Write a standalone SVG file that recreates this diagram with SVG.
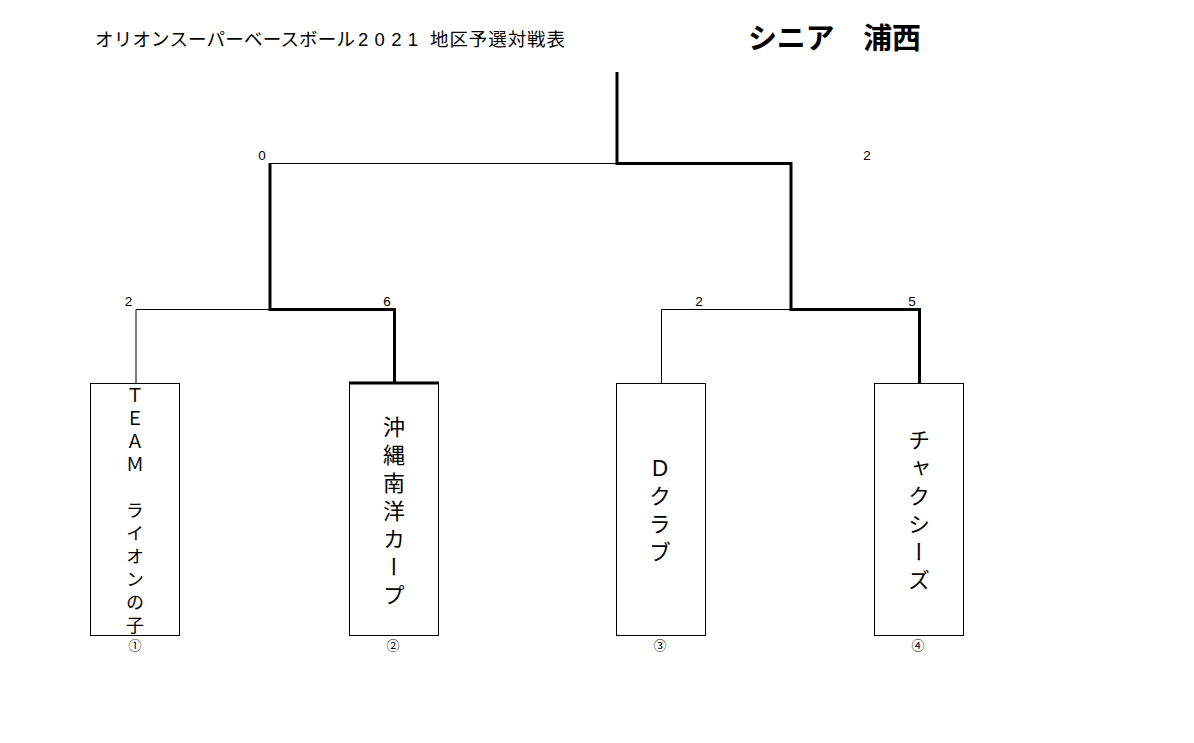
<svg xmlns="http://www.w3.org/2000/svg" width="1194" height="743" viewBox="0 0 1194 743">
<style>
text { font-family: "Noto Sans CJK JP", "Noto Sans", sans-serif; fill: #000; }
.thin { stroke: #000; stroke-width: 1; fill: none; }
.thick { stroke: #000; stroke-width: 3; fill: none; }
.box { stroke: #000; stroke-width: 1; fill: #fff; }
.score { font-family: "Liberation Sans", sans-serif; font-size: 13.5px; text-anchor: middle; }
.seed { font-size: 13px; text-anchor: middle; }
.vt { writing-mode: vertical-rl; text-orientation: upright; }
</style>
<rect width="1194" height="743" fill="#fff"/>
<text id="title" y="46" font-size="18.5"><tspan x="95" textLength="260" lengthAdjust="spacing">オリオンスーパーベースボール</tspan><tspan x="358" textLength="60" lengthAdjust="spacing" font-family="Liberation Sans, sans-serif">2021</tspan><tspan x="420">　</tspan><tspan x="430" textLength="135" lengthAdjust="spacing">地区予選対戦表</tspan></text>
<text id="header" x="748" y="49" font-size="29" font-weight="bold" textLength="173" lengthAdjust="spacing">シニア　浦西</text>
<g id="connectors">
  <path class="thick" d="M617,72 V163.5 H791 V309.5 H919.5 V383"/>
  <path class="thin" d="M270,163.5 H617"/>
  <path class="thick" d="M270,163 V309.5 H394.5 V383"/>
  <path class="thin" d="M136,383 V309.5 H270"/>
  <path class="thin" d="M661.5,383 V309.5 H791"/>
</g>
<g id="scores">
  <text class="score" x="262" y="160">0</text>
  <text class="score" x="867" y="160">2</text>
  <text class="score" x="128.5" y="305.5">2</text>
  <text class="score" x="387" y="305.5">6</text>
  <text class="score" x="699" y="305.5">2</text>
  <text class="score" x="912" y="305.5">5</text>
</g>
<g id="team1">
  <rect class="box" x="90.5" y="383.5" width="89" height="252"/>
  <text class="vt" x="135" y="386" font-size="18" letter-spacing="5">ＴＥＡＭ　ライオンの子</text>
  <text class="seed" x="135" y="650">①</text>
</g>
<g id="team2">
  <rect class="box" x="349.5" y="383.5" width="89" height="252"/>
  <path class="thick" d="M349,383 H439"/>
  <text class="vt" x="394" y="416" font-size="22" letter-spacing="6">沖縄南洋カープ</text>
  <text class="seed" x="393" y="650">②</text>
</g>
<g id="team3">
  <rect class="box" x="616.5" y="383.5" width="89" height="252"/>
  <text class="vt" x="660" y="457" font-size="22" letter-spacing="6">Ｄクラブ</text>
  <text class="seed" x="660" y="650">③</text>
</g>
<g id="team4">
  <rect class="box" x="874.5" y="383.5" width="89" height="252"/>
  <text class="vt" x="919" y="429" font-size="22" letter-spacing="6">チャクシーズ</text>
  <text class="seed" x="918" y="650">④</text>
</g>
</svg>
